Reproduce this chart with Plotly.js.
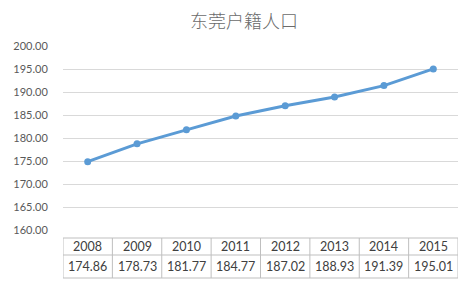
<!DOCTYPE html>
<html><head><meta charset="utf-8">
<script src="https://cdn.plot.ly/plotly-3.0.1.min.js"></script>
<style>html,body{margin:0;padding:0;background:#fff}#c{width:474px;height:288px}</style>
</head><body><div id="c"></div>
<script>
const years = ['2008','2009','2010','2011','2012','2013','2014','2015'];
const values = [174.86, 178.73, 181.77, 184.77, 187.02, 188.93, 191.39, 195.01];
const valueLabels = ['174.86','178.73','181.77','184.77','187.02','188.93','191.39','195.01'];
const titleText = '东莞户籍人口';

const plotTop = 46, plotBottom = 230, H = plotBottom - plotTop;
const py = y => (plotBottom - y) / H;
const rowTop = py(238), rowMid = py(255), rowBot = py(278);
const border = {color:'#bfbfbf', width:1};

const shapes = [];
[rowTop,rowMid,rowBot].forEach(y=>shapes.push({type:'line',xref:'x',yref:'paper',x0:-0.5,x1:years.length-0.5,y0:y,y1:y,line:border}));
for(let i=0;i<=years.length;i++){
  shapes.push({type:'line',xref:'x',yref:'paper',x0:i-0.5,x1:i-0.5,y0:rowTop,y1:rowBot,line:border});
}
const annotations = [];
years.forEach((yr,i)=>{
  annotations.push({xref:'x',yref:'paper',x:i,y:(rowTop+rowMid)/2,text:yr,showarrow:false,xanchor:'center',yanchor:'middle',font:{family:'Lato, Liberation Sans, sans-serif',size:12.5,color:'#404040'}});
  annotations.push({xref:'x',yref:'paper',x:i,y:(rowMid+rowBot)/2,text:valueLabels[i],showarrow:false,xanchor:'center',yanchor:'middle',font:{family:'Lato, Liberation Sans, sans-serif',size:12.5,color:'#404040'}});
});

Plotly.newPlot('c',[{
  type:'scatter',mode:'lines+markers',x:years,y:values,
  line:{color:'#5b9bd5',width:3},marker:{color:'#5b9bd5',size:7},
  hoverinfo:'skip'
}],{
  width:474,height:288,
  margin:{l:63,r:16,t:plotTop,b:288-plotBottom,pad:0},
  paper_bgcolor:'#fff',plot_bgcolor:'#fff',
  showlegend:false,
  title:{text:titleText,x:244/474,xref:'container',xanchor:'center',y:1-22/288,yref:'container',yanchor:'middle',
    font:{family:'Noto Sans CJK SC, sans-serif',size:18,color:'#6b6b6b',weight:300}},
  xaxis:{type:'category',range:[-0.5,years.length-0.5],showticklabels:false,showgrid:false,zeroline:false,showline:false,ticks:''},
  yaxis:{range:[160,200],dtick:5,tick0:160,tickformat:'.2f',showgrid:true,gridcolor:'#d9d9d9',gridwidth:1,zeroline:false,showline:false,
    ticks:'outside',ticklen:12,tickcolor:'rgba(0,0,0,0)',
    tickfont:{family:'Lato, Liberation Sans, sans-serif',size:11,color:'#595959'}},
  shapes:shapes,annotations:annotations
},{staticPlot:true});
</script></body></html>
